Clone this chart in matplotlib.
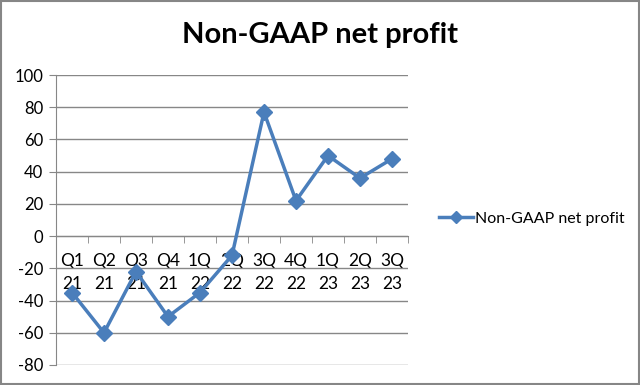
import matplotlib
matplotlib.use("Agg")
import matplotlib.pyplot as plt
from matplotlib.patches import Rectangle
import numpy as np

categories = ["Q1\n21", "Q2\n21", "Q3\n21", "Q4\n21", "1Q\n22", "2Q\n22",
              "3Q\n22", "4Q\n22", "1Q\n23", "2Q\n23", "3Q\n23"]
values = [-35, -60, -22, -50, -35, -12, 77, 22, 50, 36, 48]
yticks = [-80, -60, -40, -20, 0, 20, 40, 60, 80, 100]
series_name = "Non-GAAP net profit"
title = "Non-GAAP net profit"

plt.rcParams['font.family'] = ['Lato', 'DejaVu Sans']

fig = plt.figure(figsize=(6.4, 3.85), dpi=100)
ax = fig.add_axes([0.0875, 0.052, 0.55, 0.753])

x = np.arange(len(categories))
line_color = "#4A7EBB"
ax.plot(x, values, color=line_color, lw=2.5, marker="D", ms=8,
        label=series_name, zorder=3)

ax.set_xlim(-0.5, len(categories) - 0.5)
ax.set_ylim(-80, 100)
ax.set_yticks(yticks)
ax.set_yticklabels([str(v) for v in yticks], fontsize=12)
ax.grid(axis="y", color="#878787", lw=1)
ax.set_axisbelow(True)

for s in ["top", "right"]:
    ax.spines[s].set_visible(False)
ax.spines["left"].set_color("#878787")
ax.spines["bottom"].set_position(("data", 0))
ax.spines["bottom"].set_color("#878787")

ax.set_xticks(x)
ax.set_xticklabels(categories, fontsize=12.5, linespacing=1.55)
ax.set_xticks(np.arange(len(categories) + 1) - 0.5, minor=True)
ax.tick_params(axis="x", which="major", length=0, pad=12)
ax.tick_params(axis="x", which="minor", length=5, color="#878787", direction="out")
ax.tick_params(axis="y", length=5, color="#878787", pad=4)

fig.text(0.5, 0.908, title, ha="center", va="center", fontsize=21, fontweight="bold")

leg = fig.legend(loc="center left", bbox_to_anchor=(0.664, 0.432), frameon=False,
                 fontsize=11.5, handlelength=2.1, handletextpad=0.15, markerscale=0.8)

fig.add_artist(Rectangle((0.002, 0.003), 0.996, 0.994, transform=fig.transFigure,
                         fill=False, edgecolor="#868686", lw=1.5))

fig.savefig("out.png", dpi=100)
